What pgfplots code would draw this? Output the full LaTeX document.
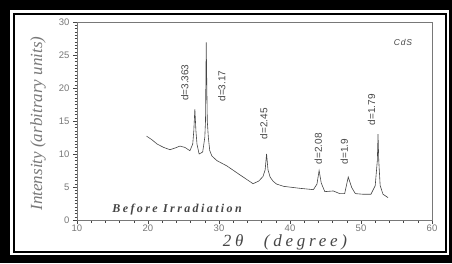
\documentclass[border=0pt]{standalone}
\usepackage{fontspec}
\setmainfont{Liberation Serif}
\newfontfamily\ticksans{Liberation Sans}
\newfontfamily\spacedserif[LetterSpace=20]{Liberation Serif}
\newfontfamily\labelserif[LetterSpace=22]{Liberation Serif}
\newfontfamily\spacedsans[LetterSpace=10]{Liberation Sans}
\usepackage{pgfplots}
\pgfplotsset{compat=1.18}
\definecolor{ink}{RGB}{70,70,70}
\definecolor{lightink}{RGB}{120,120,120}
\begin{document}
\begin{tikzpicture}
\fill[black] (0,0) rectangle (452pt,263pt);
\fill[white] (10pt,8pt) rectangle (449pt,253pt);
\draw[black, line width=2pt] (14pt,11pt) rectangle (446pt,249pt);
\begin{axis}[
  at={(77pt,43pt)}, anchor=south west,
  scale only axis, width=355pt, height=198pt,
  xmin=10, xmax=60, ymin=0, ymax=30,
  xtick={10,20,...,60}, ytick={0,5,...,30},
  minor x tick num=4, minor y tick num=9,
  tick align=outside, tick pos=left,
  major tick length=4pt, minor tick length=2.5pt,
  every tick/.style={ink, line width=0.4pt},
  axis line style={lightink, line width=0.6pt},
  /pgf/number format/assume math mode=true,
  tick label style={font=\ticksans\fontsize{9.5}{9.5}\selectfont, text=lightink},
  xticklabel style={yshift=2.5pt},
  xlabel={\labelserif\itshape 2\textit{θ}\hspace{1.2em}(degree)},
  ylabel={\itshape Intensity (arbitrary units)},
  xlabel style={font=\fontsize{17}{17}\selectfont, text=ink, at={(axis description cs:0.586,-0.112)}, anchor=center},
  ylabel style={font=\fontsize{17}{17}\selectfont, text=lightink, at={(axis description cs:-0.11,0.487)}, anchor=center, rotate=0},
  clip=false,
]
\addplot[ink, line width=0.6pt, mark=none] coordinates {
(19.8,12.7) (20.5,12.2) (21.3,11.5) (22.2,11.0) (23.1,10.65) (23.8,10.9)
(24.5,11.2) (25.2,11.0) (25.9,10.5) (26.3,11.5) (26.45,13.5) (26.6,16.8)
(26.75,13.5) (26.9,11.5) (27.2,10.0) (27.7,10.3) (28.0,12.5) (28.1,15)
(28.2,26.9) (28.35,15) (28.5,12.5) (28.7,10.5) (29.0,9.7) (29.7,9.0)
(31.1,8.2) (33.0,6.8) (34.8,5.5) (35.6,5.9) (36.2,6.6) (36.5,7.6)
(36.7,10.0) (36.9,7.6) (37.2,6.5) (37.6,5.9) (38.1,5.45) (39.1,5.1)
(41.4,4.8) (43.3,4.6) (43.8,5.45) (44.1,7.5) (44.4,5.6) (44.9,4.3)
(46.1,4.4) (47.0,4.0) (47.7,4.0) (48.2,6.5) (48.7,4.9) (49.2,4.0)
(50.3,3.9) (51.4,3.9) (52.0,5.2) (52.3,9) (52.4,13.0) (52.5,9)
(52.7,5.2) (53.1,3.9) (53.8,3.4)
};
\begin{scope}[every node/.style={rotate=90, font=\ticksans\fontsize{10}{10}\selectfont, text=ink, inner sep=0pt}]
\node at (axis cs:25.2,20.8) {d=3.363};
\node at (axis cs:30.4,20.3) {d=3.17};
\node at (axis cs:36.3,14.6) {d=2.45};
\node at (axis cs:44.0,10.8) {d=2.08};
\node at (axis cs:47.65,10.4) {d=1.9};
\node at (axis cs:51.5,16.7) {d=1.79};
\end{scope}
\node[font=\spacedsans\itshape\fontsize{8.5}{8.5}\selectfont, text=ink] at (axis cs:55.9,26.9) {CdS};
\node[font=\spacedserif\bfseries\itshape\fontsize{12}{12}\selectfont, text=ink] at (axis cs:24.1,1.6) {Before Irradiation};
\end{axis}
\pgfresetboundingbox
\useasboundingbox (0,0) rectangle (452pt,263pt);
\end{tikzpicture}
\end{document}
